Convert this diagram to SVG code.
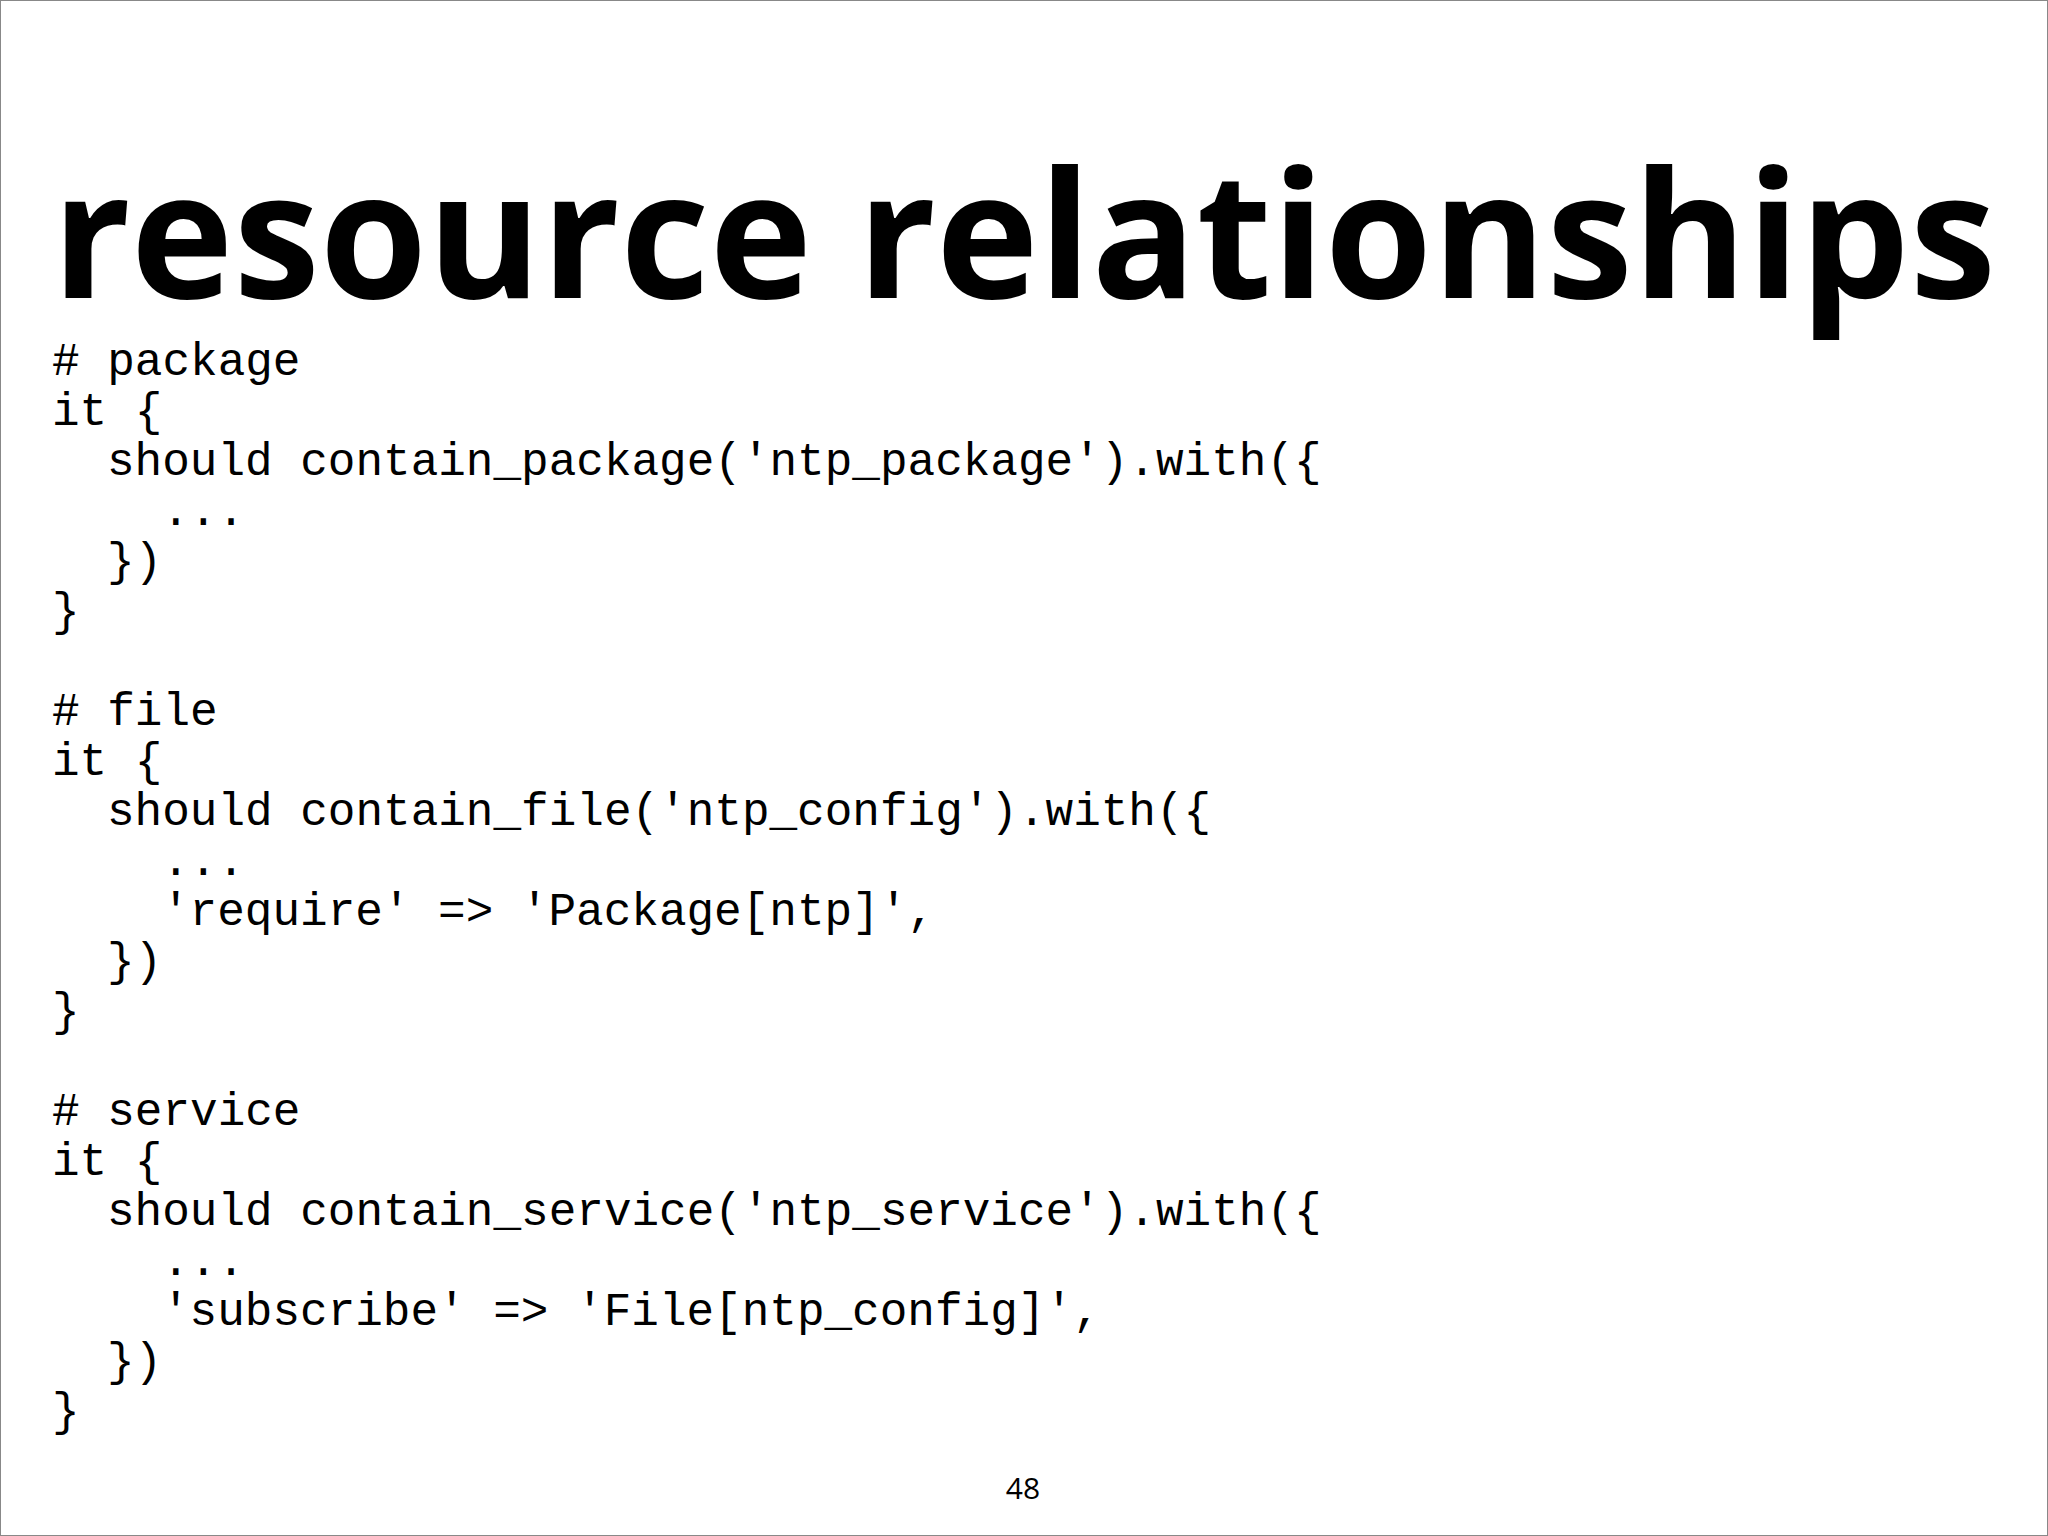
<svg xmlns="http://www.w3.org/2000/svg" width="2048" height="1536" viewBox="0 0 2048 1536">
<style>
.c{font-family:"Liberation Mono","DejaVu Sans Mono",monospace;font-size:46px;fill:#000}
</style>
<rect x="0.5" y="0.5" width="2047" height="1535" fill="#fff" stroke="#888" stroke-width="1"/>
<text x="52" y="298" font-family="Open Sans, sans-serif" font-weight="bold" font-size="176" textLength="1944" lengthAdjust="spacingAndGlyphs">resource relationships</text>
<g class="c">
<text x="52" y="375"># package</text>
<text x="52" y="425">it {</text>
<text x="107" y="475">should contain_package('ntp_package').with({</text>
<text x="162" y="525">...</text>
<text x="107" y="575">})</text>
<text x="52" y="625">}</text>
<text x="52" y="725"># file</text>
<text x="52" y="775">it {</text>
<text x="107" y="825">should contain_file('ntp_config').with({</text>
<text x="162" y="875">...</text>
<text x="162" y="925">'require' =&gt; 'Package[ntp]',</text>
<text x="107" y="975">})</text>
<text x="52" y="1025">}</text>
<text x="52" y="1125"># service</text>
<text x="52" y="1175">it {</text>
<text x="107" y="1225">should contain_service('ntp_service').with({</text>
<text x="162" y="1275">...</text>
<text x="162" y="1325">'subscribe' =&gt; 'File[ntp_config]',</text>
<text x="107" y="1375">})</text>
<text x="52" y="1425">}</text>
</g>
<text x="1023" y="1499" text-anchor="middle" font-family="Open Sans, sans-serif" font-size="30">48</text>
</svg>
